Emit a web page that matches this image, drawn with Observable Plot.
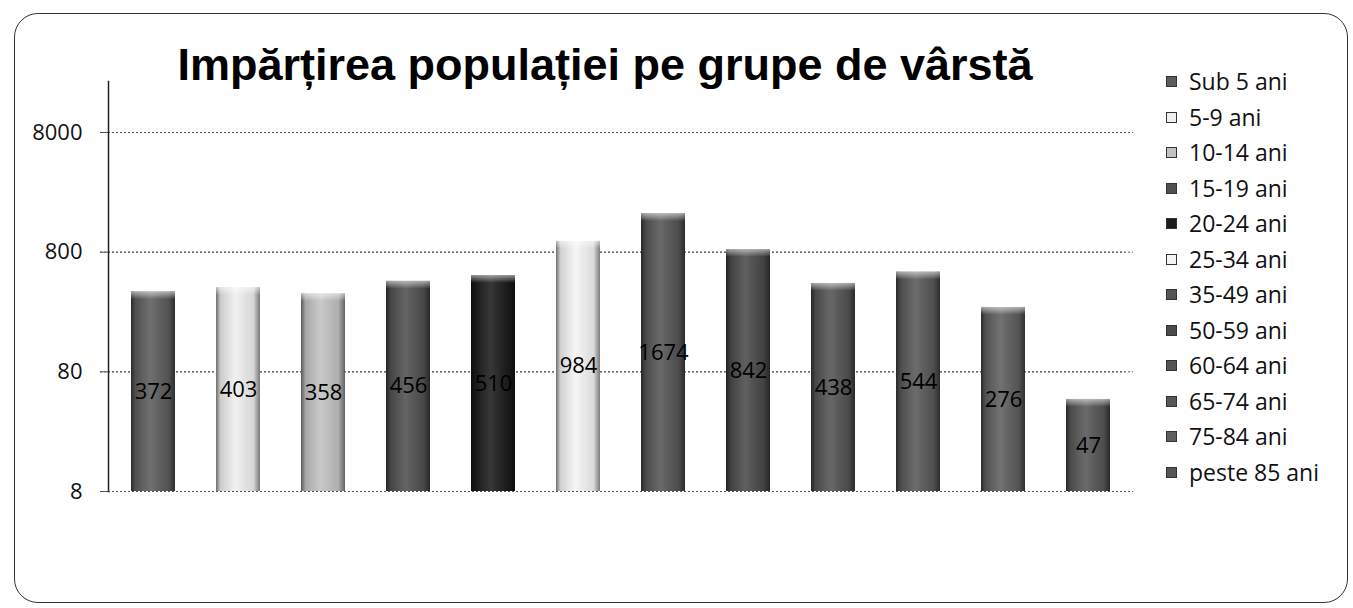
<!DOCTYPE html>
<html>
<head>
<meta charset="utf-8">
<script src="https://cdn.jsdelivr.net/npm/d3@7"></script>
<script src="https://cdn.jsdelivr.net/npm/@observablehq/plot@0.6"></script>
<style>
  html, body { margin: 0; padding: 0; background: #fff; }
  #page { position: relative; width: 1353px; height: 608px; overflow: hidden; background: #fff; }
  #border { position: absolute; left: 14px; top: 13px; width: 1334px; height: 590px; border: 1.5px solid #333; border-radius: 24px; box-sizing: border-box; }
  #title { position: absolute; left: 0; width: 1210px; top: 40px; text-align: center; font-family: "Liberation Sans", Arial, sans-serif; font-weight: bold; font-size: 45px; line-height: 50px; color: #000; white-space: nowrap; }
  #chart { position: absolute; left: 0; top: 0; }
  #legend { position: absolute; left: 1166px; top: 64px; font-family: "Open Sans", sans-serif; font-size: 23px; color: #111; }
  .row { height: 35.5px; line-height: 35.5px; display: flex; align-items: center; white-space: nowrap; }
  .sw { width: 11px; height: 11px; margin-right: 12px; border: 1px solid #333; box-sizing: border-box; }
</style>
</head>
<body>
<div id="page">
  <div id="border"></div>
  <div id="chart"></div>
  <div id="title"></div>
  <div id="legend"></div>
</div>
<script>
const chartTitle = "Impărțirea populației pe grupe de vârstă";
const groups = ["Sub 5 ani", "5-9 ani", "10-14 ani", "15-19 ani", "20-24 ani", "25-34 ani", "35-49 ani", "50-59 ani", "60-64 ani", "65-74 ani", "75-84 ani", "peste 85 ani"];
const values = [372, 403, 358, 456, 510, 984, 1674, 842, 438, 544, 276, 47];
const barColors = ["#5c5c5c", "#efefef", "#c2c2c2", "#505050", "#1c1c1c", "#f4f4f4", "#555555", "#4a4a4a", "#535353", "#585858", "#5e5e5e", "#565656"];
const yTicks = [8, 80, 800, 8000];
const yBase = 8;

const data = groups.map((g, i) => ({group: g, value: values[i]}));

document.getElementById("title").textContent = chartTitle;

const plot = Plot.plot({
  width: 1140,
  height: 608,
  marginLeft: 108,
  marginRight: 7,
  marginTop: 81,
  marginBottom: 117,
  style: {fontFamily: "'Open Sans', sans-serif", background: "transparent", overflow: "visible", color: "#111"},
  x: {type: "band", domain: groups, paddingInner: 0.485, paddingOuter: 0.24, axis: null},
  y: {type: "log", domain: [yBase, 21340], label: null, axis: null},
  color: {domain: groups, range: barColors},
  marks: [
    Plot.ruleY(yTicks, {stroke: "#555", strokeDasharray: "2,2", strokeWidth: 1}),
    Plot.tickY(yTicks, {y: d => d, frameAnchor: "left", stroke: "#555", strokeDasharray: "2,2", dx: -8, insetRight: 0}),
    Plot.axisY({ticks: yTicks, tickSize: 8, text: null, stroke: "#555", label: null}),
    Plot.text(yTicks, {y: d => d, text: d => String(d), frameAnchor: "left", textAnchor: "end", dx: -26, fontSize: 22, fill: "#111"}),
    Plot.barY(data, {x: "group", y1: yBase, y2: "value", fill: "group"}),
    Plot.barY(data, {x: "group", y1: yBase, y2: "value", fill: "url(#shade)"}),
    Plot.barY(data, {x: "group", y1: d => d.value / 1.16, y2: "value", fill: "url(#cap)"}),
    Plot.frame({anchor: "left", stroke: "#222", strokeWidth: 1.5}),
    Plot.text(data, {x: "group", y: d => Math.sqrt(yBase * d.value), text: d => String(d.value), fontSize: 22, fill: "#000"})
  ]
});

const defs = d3.select(plot).insert("defs", ":first-child");
const sh = defs.append("linearGradient").attr("id", "shade").attr("x1", "0").attr("x2", "1").attr("y1", "0").attr("y2", "0");
sh.append("stop").attr("offset", "0").attr("stop-color", "#000").attr("stop-opacity", 0.55);
sh.append("stop").attr("offset", "0.1").attr("stop-color", "#000").attr("stop-opacity", 0.15);
sh.append("stop").attr("offset", "0.45").attr("stop-color", "#fff").attr("stop-opacity", 0.12);
sh.append("stop").attr("offset", "0.85").attr("stop-color", "#000").attr("stop-opacity", 0.1);
sh.append("stop").attr("offset", "1").attr("stop-color", "#000").attr("stop-opacity", 0.5);
const cap = defs.append("linearGradient").attr("id", "cap").attr("x1", "0").attr("x2", "0").attr("y1", "0").attr("y2", "1");
cap.append("stop").attr("offset", "0").attr("stop-color", "#fff").attr("stop-opacity", 0.55);
cap.append("stop").attr("offset", "1").attr("stop-color", "#fff").attr("stop-opacity", 0);

document.getElementById("chart").appendChild(plot);

const legend = document.getElementById("legend");
groups.forEach((g, i) => {
  const row = document.createElement("div");
  row.className = "row";
  const sw = document.createElement("span");
  sw.className = "sw";
  sw.style.background = barColors[i];
  const lab = document.createElement("span");
  lab.textContent = g;
  row.appendChild(sw);
  row.appendChild(lab);
  legend.appendChild(row);
});
</script>
</body>
</html>
